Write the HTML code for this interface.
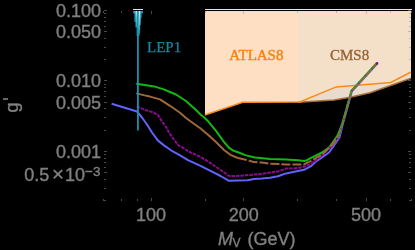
<!DOCTYPE html>
<html><head><meta charset="utf-8"><style>
html,body{margin:0;padding:0;background:#000;width:415px;height:250px;overflow:hidden}
svg{display:block;will-change:transform}
text{font-family:"Liberation Sans",sans-serif}
.ser{font-family:"Liberation Serif",serif}
</style></head><body>
<svg width="415" height="250" viewBox="0 0 415 250">
<rect width="415" height="250" fill="#000"/>
<polygon points="205,9 298,9 298.0,101.9 242.8,102.2 205.0,115.0" fill="#ffdfc4"/>
<polygon points="298,9 411,9 411.0,78.3 370.0,92.7 350.0,97.3 334.0,100.0 298.0,102.3" fill="#f4dfc9"/>
<polygon points="299.8,101.9 336.2,86.9 390.8,82.5 411.0,72.0 411.0,78.3 370.0,92.7 350.0,97.3 334.0,100.0 298.0,102.3" fill="#e9dccf"/>
<polyline points="298.0,102.3 334.0,100.0 350.0,97.3 370.0,92.7 411.0,78.3" fill="none" stroke="#a87038" stroke-width="1.5"/>
<polyline points="204.8,115.0 242.8,102.2 299.8,101.9 336.2,86.9 390.8,82.5 411.0,72.0" fill="none" stroke="#f88a1c" stroke-width="1.5"/>
<rect x="205" y="10" width="206" height="1" fill="#000"/>
<rect x="411" y="10" width="4" height="200" fill="#000"/>
<rect x="205" y="9" width="207" height="1" fill="#fce2cc"/>
<line x1="151.50" y1="201.00" x2="151.50" y2="198.00" stroke="#909090" stroke-width="1" opacity="0.5"/><line x1="151.50" y1="11.00" x2="151.50" y2="14.00" stroke="#909090" stroke-width="1" opacity="0.5"/><line x1="243.50" y1="201.00" x2="243.50" y2="198.00" stroke="#909090" stroke-width="1" opacity="0.5"/><line x1="243.50" y1="11.00" x2="243.50" y2="14.00" stroke="#909090" stroke-width="1" opacity="0.5"/><line x1="366.50" y1="201.00" x2="366.50" y2="198.00" stroke="#909090" stroke-width="1" opacity="0.5"/><line x1="366.50" y1="11.00" x2="366.50" y2="14.00" stroke="#909090" stroke-width="1" opacity="0.5"/><line x1="103.50" y1="201.00" x2="103.50" y2="199.00" stroke="#909090" stroke-width="1" opacity="0.5"/><line x1="103.50" y1="11.00" x2="103.50" y2="13.00" stroke="#909090" stroke-width="1" opacity="0.5"/><line x1="121.50" y1="201.00" x2="121.50" y2="199.00" stroke="#909090" stroke-width="1" opacity="0.5"/><line x1="121.50" y1="11.00" x2="121.50" y2="13.00" stroke="#909090" stroke-width="1" opacity="0.5"/><line x1="137.50" y1="201.00" x2="137.50" y2="199.00" stroke="#909090" stroke-width="1" opacity="0.5"/><line x1="137.50" y1="11.00" x2="137.50" y2="13.00" stroke="#909090" stroke-width="1" opacity="0.5"/><line x1="205.50" y1="201.00" x2="205.50" y2="199.00" stroke="#909090" stroke-width="1" opacity="0.5"/><line x1="205.50" y1="11.00" x2="205.50" y2="13.00" stroke="#909090" stroke-width="1" opacity="0.5"/><line x1="297.50" y1="201.00" x2="297.50" y2="199.00" stroke="#909090" stroke-width="1" opacity="0.5"/><line x1="297.50" y1="11.00" x2="297.50" y2="13.00" stroke="#909090" stroke-width="1" opacity="0.5"/><line x1="336.50" y1="201.00" x2="336.50" y2="199.00" stroke="#909090" stroke-width="1" opacity="0.5"/><line x1="336.50" y1="11.00" x2="336.50" y2="13.00" stroke="#909090" stroke-width="1" opacity="0.5"/><line x1="390.50" y1="201.00" x2="390.50" y2="199.00" stroke="#909090" stroke-width="1" opacity="0.5"/><line x1="390.50" y1="11.00" x2="390.50" y2="13.00" stroke="#909090" stroke-width="1" opacity="0.5"/><line x1="411.50" y1="201.00" x2="411.50" y2="199.00" stroke="#909090" stroke-width="1" opacity="0.5"/><line x1="411.50" y1="11.00" x2="411.50" y2="13.00" stroke="#909090" stroke-width="1" opacity="0.5"/><line x1="104.00" y1="10.50" x2="107.00" y2="10.50" stroke="#909090" stroke-width="1" opacity="0.5"/><line x1="411.00" y1="10.50" x2="408.00" y2="10.50" stroke="#909090" stroke-width="1" opacity="0.5"/><line x1="104.00" y1="31.50" x2="107.00" y2="31.50" stroke="#909090" stroke-width="1" opacity="0.5"/><line x1="411.00" y1="31.50" x2="408.00" y2="31.50" stroke="#909090" stroke-width="1" opacity="0.5"/><line x1="104.00" y1="80.50" x2="107.00" y2="80.50" stroke="#909090" stroke-width="1" opacity="0.5"/><line x1="411.00" y1="80.50" x2="408.00" y2="80.50" stroke="#909090" stroke-width="1" opacity="0.5"/><line x1="104.00" y1="102.50" x2="107.00" y2="102.50" stroke="#909090" stroke-width="1" opacity="0.5"/><line x1="411.00" y1="102.50" x2="408.00" y2="102.50" stroke="#909090" stroke-width="1" opacity="0.5"/><line x1="104.00" y1="151.50" x2="107.00" y2="151.50" stroke="#909090" stroke-width="1" opacity="0.5"/><line x1="411.00" y1="151.50" x2="408.00" y2="151.50" stroke="#909090" stroke-width="1" opacity="0.5"/><line x1="104.00" y1="172.50" x2="107.00" y2="172.50" stroke="#909090" stroke-width="1" opacity="0.5"/><line x1="411.00" y1="172.50" x2="408.00" y2="172.50" stroke="#909090" stroke-width="1" opacity="0.5"/><line x1="104.00" y1="59.50" x2="106.00" y2="59.50" stroke="#909090" stroke-width="1" opacity="0.5"/><line x1="411.00" y1="59.50" x2="409.00" y2="59.50" stroke="#909090" stroke-width="1" opacity="0.5"/><line x1="104.00" y1="47.50" x2="106.00" y2="47.50" stroke="#909090" stroke-width="1" opacity="0.5"/><line x1="411.00" y1="47.50" x2="409.00" y2="47.50" stroke="#909090" stroke-width="1" opacity="0.5"/><line x1="104.00" y1="38.50" x2="106.00" y2="38.50" stroke="#909090" stroke-width="1" opacity="0.5"/><line x1="411.00" y1="38.50" x2="409.00" y2="38.50" stroke="#909090" stroke-width="1" opacity="0.5"/><line x1="104.00" y1="26.50" x2="106.00" y2="26.50" stroke="#909090" stroke-width="1" opacity="0.5"/><line x1="411.00" y1="26.50" x2="409.00" y2="26.50" stroke="#909090" stroke-width="1" opacity="0.5"/><line x1="104.00" y1="21.50" x2="106.00" y2="21.50" stroke="#909090" stroke-width="1" opacity="0.5"/><line x1="411.00" y1="21.50" x2="409.00" y2="21.50" stroke="#909090" stroke-width="1" opacity="0.5"/><line x1="104.00" y1="17.50" x2="106.00" y2="17.50" stroke="#909090" stroke-width="1" opacity="0.5"/><line x1="411.00" y1="17.50" x2="409.00" y2="17.50" stroke="#909090" stroke-width="1" opacity="0.5"/><line x1="104.00" y1="13.50" x2="106.00" y2="13.50" stroke="#909090" stroke-width="1" opacity="0.5"/><line x1="411.00" y1="13.50" x2="409.00" y2="13.50" stroke="#909090" stroke-width="1" opacity="0.5"/><line x1="104.00" y1="130.50" x2="106.00" y2="130.50" stroke="#909090" stroke-width="1" opacity="0.5"/><line x1="411.00" y1="130.50" x2="409.00" y2="130.50" stroke="#909090" stroke-width="1" opacity="0.5"/><line x1="104.00" y1="117.50" x2="106.00" y2="117.50" stroke="#909090" stroke-width="1" opacity="0.5"/><line x1="411.00" y1="117.50" x2="409.00" y2="117.50" stroke="#909090" stroke-width="1" opacity="0.5"/><line x1="104.00" y1="108.50" x2="106.00" y2="108.50" stroke="#909090" stroke-width="1" opacity="0.5"/><line x1="411.00" y1="108.50" x2="409.00" y2="108.50" stroke="#909090" stroke-width="1" opacity="0.5"/><line x1="104.00" y1="96.50" x2="106.00" y2="96.50" stroke="#909090" stroke-width="1" opacity="0.5"/><line x1="411.00" y1="96.50" x2="409.00" y2="96.50" stroke="#909090" stroke-width="1" opacity="0.5"/><line x1="104.00" y1="91.50" x2="106.00" y2="91.50" stroke="#909090" stroke-width="1" opacity="0.5"/><line x1="411.00" y1="91.50" x2="409.00" y2="91.50" stroke="#909090" stroke-width="1" opacity="0.5"/><line x1="104.00" y1="87.50" x2="106.00" y2="87.50" stroke="#909090" stroke-width="1" opacity="0.5"/><line x1="411.00" y1="87.50" x2="409.00" y2="87.50" stroke="#909090" stroke-width="1" opacity="0.5"/><line x1="104.00" y1="84.50" x2="106.00" y2="84.50" stroke="#909090" stroke-width="1" opacity="0.5"/><line x1="411.00" y1="84.50" x2="409.00" y2="84.50" stroke="#909090" stroke-width="1" opacity="0.5"/><line x1="104.00" y1="200.50" x2="106.00" y2="200.50" stroke="#909090" stroke-width="1" opacity="0.5"/><line x1="411.00" y1="200.50" x2="409.00" y2="200.50" stroke="#909090" stroke-width="1" opacity="0.5"/><line x1="104.00" y1="188.50" x2="106.00" y2="188.50" stroke="#909090" stroke-width="1" opacity="0.5"/><line x1="411.00" y1="188.50" x2="409.00" y2="188.50" stroke="#909090" stroke-width="1" opacity="0.5"/><line x1="104.00" y1="179.50" x2="106.00" y2="179.50" stroke="#909090" stroke-width="1" opacity="0.5"/><line x1="411.00" y1="179.50" x2="409.00" y2="179.50" stroke="#909090" stroke-width="1" opacity="0.5"/><line x1="104.00" y1="167.50" x2="106.00" y2="167.50" stroke="#909090" stroke-width="1" opacity="0.5"/><line x1="411.00" y1="167.50" x2="409.00" y2="167.50" stroke="#909090" stroke-width="1" opacity="0.5"/><line x1="104.00" y1="162.50" x2="106.00" y2="162.50" stroke="#909090" stroke-width="1" opacity="0.5"/><line x1="411.00" y1="162.50" x2="409.00" y2="162.50" stroke="#909090" stroke-width="1" opacity="0.5"/><line x1="104.00" y1="158.50" x2="106.00" y2="158.50" stroke="#909090" stroke-width="1" opacity="0.5"/><line x1="411.00" y1="158.50" x2="409.00" y2="158.50" stroke="#909090" stroke-width="1" opacity="0.5"/><line x1="104.00" y1="154.50" x2="106.00" y2="154.50" stroke="#909090" stroke-width="1" opacity="0.5"/><line x1="411.00" y1="154.50" x2="409.00" y2="154.50" stroke="#909090" stroke-width="1" opacity="0.5"/>
<!-- curves -->
<polyline points="111.6,103.7 137.0,111.5 142.0,117.5 147.0,124.5 152.0,132.5 158.0,140.6 164.0,145.4 171.0,150.3 178.8,154.6 188.0,160.2 200.0,165.6 211.0,171.2 220.6,176.0 229.0,180.8 238.0,180.5 247.6,180.2 254.0,179.1 262.0,178.6 270.0,177.8 278.0,176.2 286.0,173.4 298.0,171.0 304.0,169.8 311.0,166.2 315.0,162.3 322.0,157.4 329.0,152.5 333.0,146.9 339.5,137.5 342.7,124.2 345.4,114.7 348.2,104.7 351.9,91.2 377.1,63.7" fill="none" stroke="#6262ff" stroke-width="2.0" stroke-linejoin="round"/>
<polyline points="136.2,83.8 144.6,85.0 154.2,86.4 163.8,89.4 170.0,92.0 176.0,94.5 186.0,101.0 196.0,110.0 200.0,114.0 205.0,118.2 208.0,121.2 216.0,130.8 224.0,142.0 228.8,147.6 233.6,150.8 238.0,152.3 246.0,155.4 255.0,157.5 270.0,159.0 286.0,159.5 298.0,160.2 304.0,161.0 307.0,160.2 311.0,157.8 315.0,156.0 322.0,152.5 329.0,147.6 333.0,142.0 337.5,135.5 342.2,123.8 344.9,114.3 347.7,104.3 351.4,90.8 376.6,63.3" fill="none" stroke="#12b812" stroke-width="2.0" stroke-linejoin="round"/>
<polyline points="136.6,106.4 146.0,110.2 152.0,112.0 158.0,115.0 161.6,121.0 166.4,127.6 169.2,133.0 173.2,138.6 178.0,145.0 183.6,148.2 188.0,151.2 200.0,156.6 211.0,163.4 220.6,170.0 229.0,176.0 236.0,176.0 254.0,174.6 262.0,173.8 270.0,172.5 278.0,171.4 286.0,168.6 298.0,168.0 304.0,166.8 311.0,163.8 322.0,155.5 333.0,144.5 338.8,136.5 342.4,124.0" fill="none" stroke="#8c0a90" stroke-width="2" stroke-dasharray="3.5,1"/>
<polyline points="136.2,93.4 144.6,95.4 150.0,96.6 160.0,99.4 170.0,105.8 180.0,112.7 186.0,118.0 196.0,125.2 200.0,128.0 208.0,134.8 216.0,142.0 224.0,150.0 230.4,154.8 238.0,158.0" fill="none" stroke="#a06838" stroke-width="2.0" stroke-linejoin="round"/>
<polyline points="238.0,158.0 247.6,160.2 254.0,162.1 262.0,162.6 270.0,163.7 286.0,164.4 304.0,164.4 311.0,160.8 322.0,154.5 333.0,144.0 338.5,136.0" fill="none" stroke="#a06838" stroke-width="2.0" stroke-dasharray="9,2" stroke-linejoin="round"/>
<polyline points="338.5,136.0 342.4,124.0 345.1,114.5 347.9,104.5 351.6,91.0 376.8,63.5" fill="none" stroke="#8a6a3a" stroke-width="2.0" stroke-linejoin="round"/>
<polyline points="338.5,136.0 342.4,124.0 345.1,114.5 347.9,104.5 351.6,91.0 376.8,63.5" fill="none" stroke="#2aa02a" stroke-width="2.0" stroke-dasharray="1.6,3.6"/>
<polyline points="338.5,136.0 342.4,124.0 345.1,114.5 347.9,104.5 351.6,91.0 376.8,63.5" fill="none" stroke="#7a2a9a" stroke-width="2.0" stroke-dasharray="1,9" stroke-dashoffset="3"/>
<circle cx="377" cy="63.4" r="1.3" fill="#8a0a96"/>
<!-- LEP -->
<polygon points="133.2,11 143,11 143,13.5 141.6,13.5 141.6,18 140.9,18 140.9,25 140.2,25 140.2,31 139.3,36 136.6,36 136.6,27.5 135.4,27.5 135.4,22 134.4,22 134.4,13.5 133.2,13.5" fill="#1a92ac"/>
<polygon points="134.2,11 140.6,11 140.2,20 139.4,30 137.4,30 136.2,22 135.2,14" fill="#4fb8d0"/>
<polygon points="136.2,11 140,11 139.4,20 138.9,28 138.1,28 137.2,20" fill="#d8f2f8"/>
<rect x="133" y="9" width="10" height="1" fill="#c8eef6"/>
<line x1="137.9" y1="11" x2="137.9" y2="130.6" stroke="#1a92ac" stroke-width="1.8"/>
<!-- labels -->
<g fill="#808080" stroke="#808080" stroke-width="0.35" font-size="18" text-anchor="end">
<text x="101" y="17">0.100</text>
<text x="101" y="38.0">0.050</text>
<text x="101" y="87.3">0.010</text>
<text x="101" y="108.5">0.005</text>
<text x="101" y="157.8">0.001</text>
</g>
<g fill="#808080" stroke="#808080" stroke-width="0.35" font-size="18"><text x="24.2" y="180.6">0.5</text><text x="52" y="181.2" font-size="20.5">×</text><text x="65" y="180.6">10</text><text x="85" y="176.3" font-size="13.5">−3</text></g>
<g fill="#808080" stroke="#808080" stroke-width="0.35" font-size="18" text-anchor="middle">
<text x="151.1" y="220.5">100</text>
<text x="243.7" y="220.5">200</text>
<text x="366.1" y="220.5">500</text>
</g>
<g fill="#808080" stroke="#808080" stroke-width="0.35" font-size="18"><text x="218" y="245" font-style="italic">M</text><text x="232.5" y="246.5" font-size="12">V</text><text x="247.5" y="245">(GeV)</text></g>
<text transform="translate(17.6,112.6) rotate(-90)" fill="#808080" stroke="#808080" stroke-width="0.35" font-size="18">g</text>
<rect x="3" y="98.2" width="5" height="1.6" fill="#808080"/>
<text class="ser" x="147" y="52" fill="#1a86a2" stroke="#1a86a2" stroke-width="0.25" font-size="15">LEP1</text>
<text class="ser" x="229.3" y="59.8" fill="#f58412" stroke="#f58412" stroke-width="0.45" font-size="15">ATLAS8</text>
<text class="ser" x="330" y="59.6" fill="#94622e" stroke="#94622e" stroke-width="0.3" font-size="15">CMS8</text>
</svg>
</body></html>
